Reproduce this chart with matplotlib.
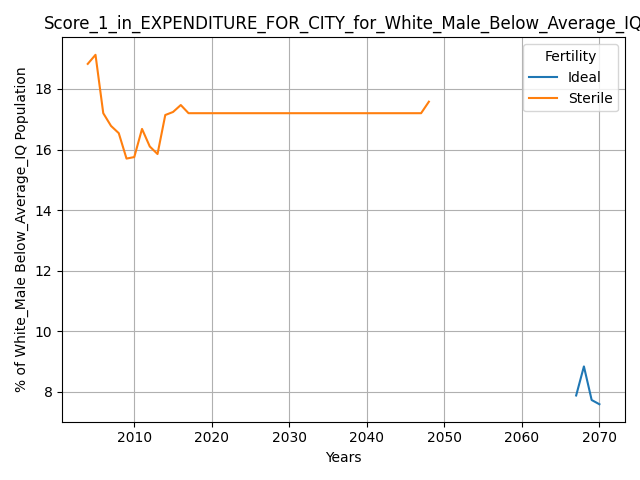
import matplotlib
matplotlib.use("Agg")
import matplotlib.pyplot as plt

ideal_years = [2067, 2068, 2069, 2070]
ideal_vals = [7.87, 8.83, 7.72, 7.58]

sterile_years = list(range(2004, 2049))
sterile_vals = [18.83, 19.13, 17.2, 16.78, 16.54, 15.7, 15.75, 16.68, 16.1, 15.85,
                17.14, 17.24, 17.47] + [17.2] * 31 + [17.58]

fig, ax = plt.subplots(figsize=(6.4, 4.8), dpi=100)
ax.plot(ideal_years, ideal_vals, label='Ideal')
ax.plot(sterile_years, sterile_vals, label='Sterile')
ax.set_xlabel('Years')
ax.set_ylabel('% of White_Male Below_Average_IQ Population')
ax.set_title('Score_1_in_EXPENDITURE_FOR_CITY_for_White_Male_Below_Average_IQ')
ax.legend(title='Fertility')
ax.grid()
fig.tight_layout()
fig.savefig('out.png')
